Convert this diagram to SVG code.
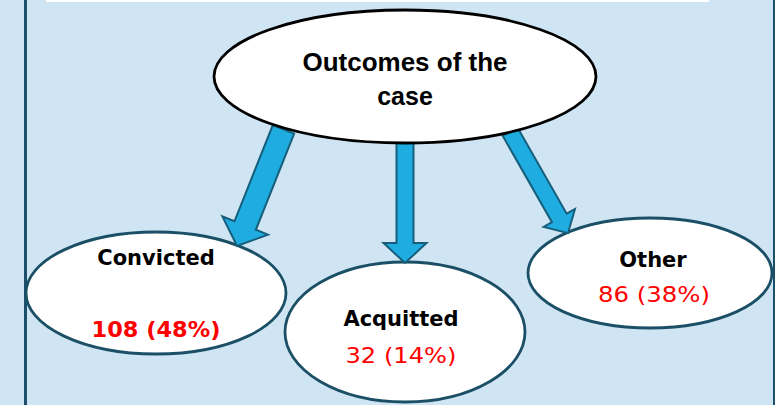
<svg xmlns="http://www.w3.org/2000/svg" width="775" height="405" viewBox="0 0 775 405">
<style>
.bg{fill:#d0e5f4}
.border{stroke:#1b4f6a;stroke-width:3}
.node{fill:#ffffff;stroke:#1b4f66;stroke-width:2.8}
.top{fill:#ffffff;stroke:#000000;stroke-width:2.8}
.arrow{fill:#1eace1;stroke:#175e7b;stroke-width:2;stroke-linejoin:miter}
.lbl{font-family:"DejaVu Sans",sans-serif;font-weight:bold;font-size:21px;fill:#000000;text-anchor:middle}
.num{font-family:"DejaVu Sans",sans-serif;font-size:21px;fill:#ff0000;text-anchor:middle}
.numb{font-family:"DejaVu Sans",sans-serif;font-weight:bold;font-size:21px;fill:#ff0000;text-anchor:middle}
.title{font-family:"Liberation Sans",Arial,sans-serif;font-weight:bold;font-size:25px;fill:#000000;text-anchor:middle}
</style>
<rect class="bg" x="0" y="0" width="775" height="405"/>
<rect x="46" y="0" width="663" height="2" fill="#ffffff"/>
<line class="border" x1="25.5" y1="0" x2="25.5" y2="405"/>
<line x1="774" y1="0" x2="774" y2="405" stroke="#1b4f6a" stroke-width="2"/>

<g id="node-convicted">
<ellipse class="node" cx="156" cy="293" rx="130" ry="61"/>
<text class="lbl" x="156" y="265">Convicted</text>
<text class="numb" x="156" y="337" textLength="129" lengthAdjust="spacingAndGlyphs">108 (48%)</text>
</g>
<g id="node-acquitted">
<ellipse class="node" cx="405" cy="332" rx="120" ry="70"/>
<text class="lbl" x="401" y="326">Acquitted</text>
<text class="num" x="401" y="363" textLength="111" lengthAdjust="spacingAndGlyphs">32 (14%)</text>
</g>
<g id="node-other">
<ellipse class="node" cx="650" cy="273" rx="122" ry="55"/>
<text class="lbl" x="653" y="267">Other</text>
<text class="num" x="654" y="302" textLength="112" lengthAdjust="spacingAndGlyphs">86 (38%)</text>
</g>

<g id="connectors">
<polygon class="arrow" transform="translate(405,146)" points="-8.5,-4 8.5,-4 8.5,97 21.5,97 0,117 -21.5,97 -8.5,97"/>
<polygon class="arrow" transform="translate(282,133) rotate(21.7)" points="-11.5,-4 11.5,-4 11.5,99.6 24.5,99.6 0,121.6 -24.5,99.6 -11.5,99.6"/>
<polygon class="arrow" transform="translate(512,135) rotate(-29.7)" points="-8.5,-4 8.5,-4 8.5,95.5 18,95.5 0,113 -18,95.5 -8.5,95.5"/>
</g>

<g id="node-outcomes">
<ellipse class="top" cx="405" cy="76.5" rx="191" ry="66.5"/>
<text class="title" x="405" y="71" textLength="205" lengthAdjust="spacingAndGlyphs">Outcomes of the</text>
<text class="title" x="405" y="105">case</text>
</g>
</svg>
